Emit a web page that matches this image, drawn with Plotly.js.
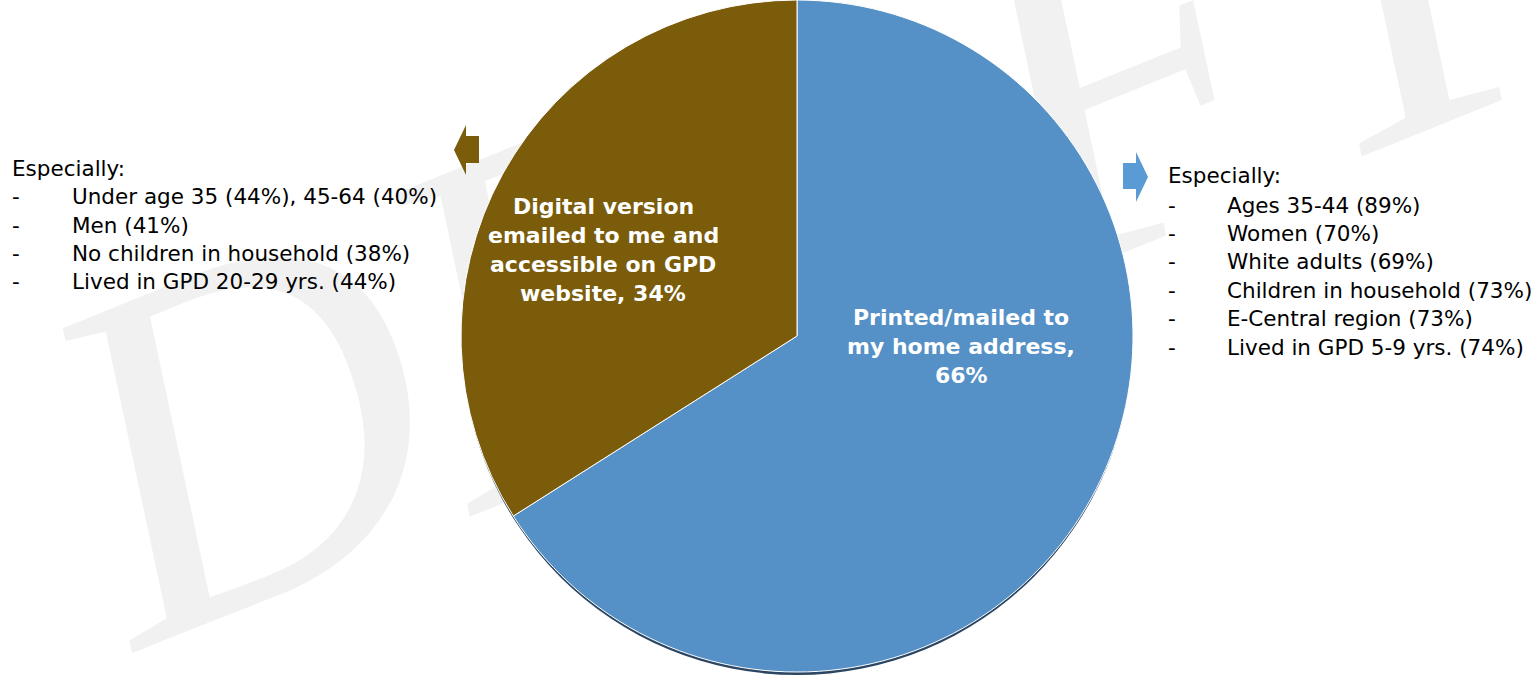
<!DOCTYPE html>
<html><head><meta charset="utf-8">
<script src="https://cdn.plot.ly/plotly-3.0.1.min.js"></script>
<style>html,body{margin:0;padding:0;background:#fff;overflow:hidden;} #chart{width:1539px;height:675px;}</style>
</head><body><div id="chart"></div>
<script>
// ---- data ----
const categories = ['Printed/mailed to my home address', 'Digital version emailed to me and accessible on GPD website'];
const shares = [66, 34];
const sliceColors = ['#5590c6', '#7a5c0a'];
const printedLabelLines = ['Printed/mailed to', 'my home address,'];
const digitalLabelLines = ['Digital version', 'emailed to me and', 'accessible on GPD', 'website,'];
const especiallyHeader = 'Especially:';
const printedEspecially = ['Ages 35-44 (89%)', 'Women (70%)', 'White adults (69%)', 'Children in household (73%)', 'E-Central region (73%)', 'Lived in GPD 5-9 yrs. (74%)'];
const digitalEspecially = ['Under age 35 (44%), 45-64 (40%)', 'Men (41%)', 'No children in household (38%)', 'Lived in GPD 20-29 yrs. (44%)'];
const watermarkText = 'DRAFT';

// ---- layout helpers ----
const W = 1539, H = 675;
const px = x => x / W;
const py = y => 1 - y / H;
const CX = 797, R = 336;

const bodyFont = {family: 'DejaVu Sans, Verdana, sans-serif', size: 21.5, color: '#000000'};
const boldFont = {family: 'DejaVu Sans, Verdana, sans-serif', size: 22, color: '#ffffff', weight: 'bold'};

const annotations = [];
function addText(text, x, y, font, xanchor) {
  annotations.push({text: text, x: px(x), y: py(y), xref: 'paper', yref: 'paper',
    xanchor: xanchor, yanchor: 'middle', showarrow: false, font: font});
}

// slice labels
const printedLines = printedLabelLines.concat([shares[0] + '%']);
printedLines.forEach((t, i) => addText('<b>' + t + '</b>', 961, 318 + i * 28.7, boldFont, 'center'));
const digitalLines = digitalLabelLines.slice(0, -1).concat([digitalLabelLines[digitalLabelLines.length - 1] + ' ' + shares[1] + '%']);
digitalLines.forEach((t, i) => addText('<b>' + t + '</b>', 603, 207 + i * 28.8, boldFont, 'center'));

// left "Especially" list (digital)
addText(especiallyHeader, 10, 168, bodyFont, 'left');
digitalEspecially.forEach((t, i) => {
  addText('-', 10, 197 + i * 28.2, bodyFont, 'left');
  addText(t, 70, 197 + i * 28.2, bodyFont, 'left');
});
// right "Especially" list (printed)
addText(especiallyHeader, 1166, 176, bodyFont, 'left');
printedEspecially.forEach((t, i) => {
  addText('-', 1166, 205 + i * 28.4, bodyFont, 'left');
  addText(t, 1225, 205 + i * 28.4, bodyFont, 'left');
});

function pathFrom(points) {
  return 'M ' + points.map(p => px(p[0]) + ',' + py(p[1])).join(' L ') + ' Z';
}

const shapes = [
  // watermark
  {type: 'rect', xref: 'paper', yref: 'paper', layer: 'below',
   x0: px(765), x1: px(785), y0: py(163), y1: py(143),
   line: {width: 0}, fillcolor: 'rgba(0,0,0,0)',
   label: {text: '<i>' + watermarkText + '</i>', textangle: -22, textposition: 'middle center',
           font: {family: 'Liberation Serif, Times New Roman, serif', size: 500, color: '#f1f1f1', style: 'italic'}}},
  // pie shadow
  {type: 'circle', xref: 'paper', yref: 'paper', layer: 'below',
   x0: px(CX - R + 1), x1: px(CX + R - 1), y0: py(675), y1: py(5),
   line: {width: 0}, fillcolor: '#2b4662'},
  // left arrow (brown)
  {type: 'path', xref: 'paper', yref: 'paper', layer: 'above',
   path: pathFrom([[479,136],[466,136],[466,125],[454,150],[466,175],[466,163],[479,163]]),
   fillcolor: '#7a5c0a', line: {width: 0}},
  // right arrow (blue)
  {type: 'path', xref: 'paper', yref: 'paper', layer: 'above',
   path: pathFrom([[1123,163],[1136,163],[1136,152],[1148,177],[1136,202],[1136,189],[1123,189]]),
   fillcolor: '#5b9bd5', line: {width: 0}}
];

const data = [{
  type: 'pie',
  labels: categories,
  values: shares,
  sort: false,
  direction: 'clockwise',
  rotation: 0,
  textinfo: 'none',
  hoverinfo: 'label+percent',
  marker: {colors: sliceColors, line: {color: '#ffffff', width: 1}},
  domain: {x: [px(CX - R), px(CX + R)], y: [0.0044, 1]}
}];

const layout = {
  width: W, height: H,
  margin: {l: 0, r: 0, t: 0, b: 0, pad: 0},
  paper_bgcolor: '#ffffff',
  plot_bgcolor: '#ffffff',
  showlegend: false,
  annotations: annotations,
  shapes: shapes
};

Plotly.newPlot('chart', data, layout, {displayModeBar: false, staticPlot: true});
</script>
</body></html>
